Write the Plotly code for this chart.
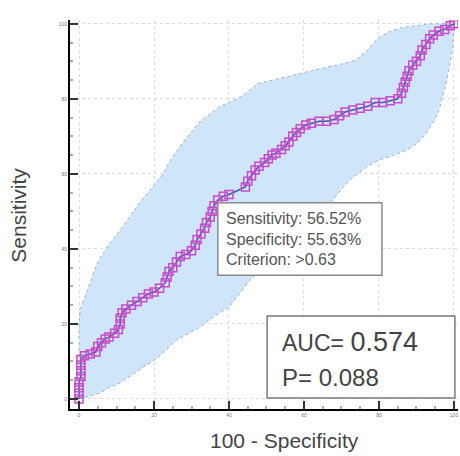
import plotly.graph_objects as go

# ROC curve points (100 - Specificity, Sensitivity)
roc_fpr = [0, 0, 0, 0, 0.5, 0.5, 0.5, 0.5, 1.5, 3, 4.5, 5, 6, 7, 8, 9.5, 10.5, 11, 11, 11.5,
           12.5, 14, 15.5, 17, 18.5, 20, 21.5, 23, 23.5, 24, 25, 26, 27, 28.5, 30, 31, 31.5,
           32.5, 33.5, 34, 35, 35.5, 36, 37, 38.5, 40, 44.37, 45, 46, 47, 48, 49.5, 50.5,
           51.5, 52.5, 54, 55, 56, 57, 58, 59, 60.5, 62, 64, 66, 68, 69.5, 71, 73, 75, 77,
           79, 81, 83, 85, 86, 86.5, 87, 87.5, 88, 89, 90, 91, 91.5, 92.5, 93.5, 94.5, 96,
           97.5, 99, 100]
roc_sens = [0, 1.5, 3, 4.5, 6, 7.5, 9, 10.5, 11.5, 12, 12.5, 14, 15, 16, 16.5, 17.5, 18.5, 20,
            21.5, 23, 24, 25, 26, 27, 28, 28.5, 29.5, 31, 32.5, 34, 35, 36.5, 38, 38.5, 39.5,
            41, 42.5, 44, 45.5, 47, 48.5, 50, 51.5, 53, 54, 54.5, 56.52, 58, 59.5, 61, 62,
            63, 64, 65, 65.5, 66.5, 67.5, 68.5, 70, 71, 72, 73, 73.5, 74, 74, 74.5, 75.5,
            76.5, 77, 77.5, 78, 79, 79, 79.5, 80, 81.5, 83, 84.5, 86, 87.5, 89, 90, 91.5, 93,
            94.5, 96, 97, 98, 98.5, 99.5, 100]

# 95% confidence bounds
ci_upper_x = [0, 0, 0.3, 1, 3, 4.8, 6.5, 8.3, 11, 13.6, 16, 19, 22.4, 24, 26, 29, 32, 35,
              37.6, 40, 44, 47.5, 52, 56, 62, 67, 71, 74, 77, 79.5, 83, 86.4, 90, 93.6, 100]
ci_upper_y = [0, 20, 23.7, 25.6, 31, 36, 39, 41.6, 45, 48.5, 52, 55.7, 60, 63, 66, 70, 73.6,
              76, 78, 79, 81, 84, 85, 86, 87.5, 88.5, 89.5, 90.4, 93, 96, 98, 99, 99.5, 100, 100]
ci_lower_x = [0, 3, 5.6, 8, 11, 16, 21, 26, 32, 36, 40, 45.6, 50, 56, 62, 67.7, 70, 73, 77,
              80, 84, 87.5, 90, 92.8, 95.5, 96, 98, 99.7, 100]
ci_lower_y = [0, 0.8, 1.6, 3, 4.3, 7.7, 11, 15.7, 19, 22, 24.5, 31.7, 36, 42, 48, 53, 56, 59,
              62, 63.7, 65, 66.4, 68, 71, 75.7, 77, 84.5, 93.6, 100]

tick_vals = [0, 20, 40, 60, 80, 100]
tick_text = ["0", "20", "40", "60", "80", "100"]

FONT = "Liberation Sans, Arial, sans-serif"

fig = go.Figure()

band_x = ci_upper_x + ci_lower_x[::-1]
band_y = ci_upper_y + ci_lower_y[::-1]
fig.add_trace(go.Scatter(x=band_x, y=band_y, fill="toself", fillcolor="#cfe5f9",
                         line=dict(width=0), mode="lines", hoverinfo="skip", showlegend=False))
fig.add_trace(go.Scatter(x=ci_upper_x, y=ci_upper_y, mode="lines",
                         line=dict(color="#94b3cf", width=1, dash="dot"),
                         showlegend=False))
fig.add_trace(go.Scatter(x=ci_lower_x, y=ci_lower_y, mode="lines",
                         line=dict(color="#94b3cf", width=1, dash="dot"),
                         showlegend=False))
fig.add_trace(go.Scatter(x=roc_fpr, y=roc_sens, mode="lines+markers",
                         line=dict(color="#2f5f9a", width=1.5),
                         marker=dict(symbol="square-open", size=8, color="#c94acb",
                                     line=dict(width=1.5)),
                         showlegend=False))

axis_common = dict(
    showline=True, linecolor="black", linewidth=2,
    showgrid=True, gridcolor="#dcdcdc", griddash="dot", gridwidth=1,
    zeroline=False, ticks="inside", ticklen=8, tickwidth=1.5, tickcolor="#333",
    tickvals=tick_vals, ticktext=tick_text,
    tickfont=dict(size=5, color="#777", family=FONT),
    minor=dict(dtick=5, ticks="inside", ticklen=3, tickcolor="#aaa", showgrid=False),
    mirror=False,
)
fig.update_xaxes(range=[-2.4, 101.07], **axis_common)
fig.update_yaxes(range=[-2.67, 101], **axis_common)

# tooltip-like box
fig.add_shape(type="rect", xref="paper", yref="paper", x0=0.381, x1=0.804, y0=0.344, y1=0.530,
              line=dict(color="#8a8a8a", width=1.5), fillcolor="white", layer="above")
tip_lines = ["Sensitivity: 56.52%", "Specificity: 55.63%", "Criterion: >0.63"]
tip_y = [0.491, 0.437, 0.384]
for t, yy in zip(tip_lines, tip_y):
    fig.add_annotation(text=t, xref="paper", yref="paper", x=0.396, y=yy, xanchor="left",
                       yanchor="middle", showarrow=False,
                       font=dict(size=16, color="#555", family=FONT))

# AUC box
fig.add_shape(type="rect", xref="paper", yref="paper", x0=0.508, x1=0.992, y0=0.028, y1=0.239,
              line=dict(color="#7a7a7a", width=1.5), fillcolor="white", layer="above")
fig.add_annotation(text="AUC= <span style='font-size:27px'>0.574</span>", xref="paper",
                   yref="paper", x=0.54, y=0.172, xanchor="left", yanchor="middle",
                   showarrow=False, font=dict(size=23, color="#444", family=FONT))
fig.add_annotation(text="P= 0.088", xref="paper", yref="paper", x=0.54, y=0.080,
                   xanchor="left", yanchor="middle", showarrow=False,
                   font=dict(size=24, color="#444", family=FONT))

# axis titles
fig.add_annotation(text="Sensitivity", xref="paper", yref="paper", x=-0.132, y=0.499,
                   textangle=-90, showarrow=False, xanchor="center", yanchor="middle",
                   font=dict(size=21, color="#444", family=FONT))
fig.add_annotation(text="100 - Specificity", xref="paper", yref="paper", x=0.554, y=-0.080,
                   showarrow=False, xanchor="center", yanchor="middle",
                   font=dict(size=21, color="#444", family=FONT))

fig.update_layout(width=460, height=456, margin=dict(l=70, r=2, t=20, b=47),
                  plot_bgcolor="white", paper_bgcolor="white", showlegend=False)

fig.write_html("out.html", config={"displayModeBar": False},
               post_script="document.body.style.margin='0px';")
